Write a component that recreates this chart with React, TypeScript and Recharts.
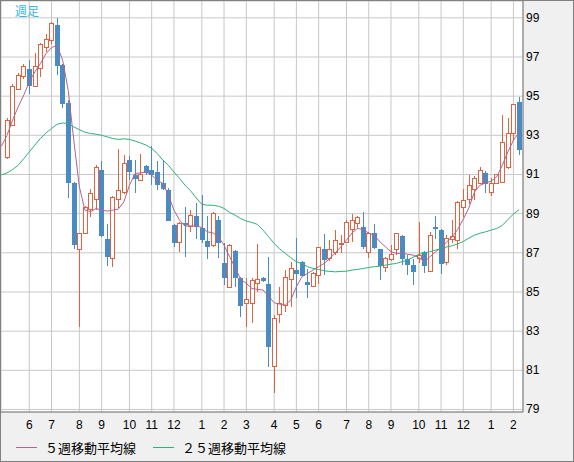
import { ComposedChart, Bar, Line, XAxis, YAxis, CartesianGrid } from 'recharts';

// week 0 is the partly hidden week at the left edge (moving averages only)
const opens = [
  null,
  91.87, 93.55, 95.39, 96.02, 96.37, 95.52, 96.46, 97.51, 97.85, 98.62,
  96.58, 94.65, 90.57, 87.22, 88.02, 89.23, 89.73, 91.22, 87.73, 86.71,
  89.73, 90.11, 91.73, 90.96, 90.74, 91.42, 91.25, 91.13, 90.57, 90.2,
  88.41, 87.56, 88.5, 88.36, 88.87, 88.28, 87.6, 87.39, 88.7, 86.49,
  85.27, 87.09, 85.69, 84.42, 84.42, 85.47, 85.69, 85.4, 81.22, 83.87,
  84.33, 85.64, 86.12, 86.51, 85.49, 85.3, 85.86, 87.22, 86.71, 87.05,
  87.45, 87.53, 88.24, 88.5, 88.33, 87.05, 87.99, 87.17, 86.29, 86.66,
  87.22, 87.85, 86.66, 86.37, 86.71, 87.02, 86.08, 88.33, 88.16, 86.51,
  87.73, 87.66, 89.35, 89.77, 90.25, 90.59, 91.1, 90.11, 90.54, 90.62,
  91.39, 93.14, 94.7,
];
const highs = [
  null,
  93.9, 95.6, 96.16, 96.65, 96.83, 97.2, 97.7, 98.16, 98.8, 99.0,
  96.65, 94.79, 90.6, 88.0, 89.4, 90.28, 91.5, 91.69, 88.46, 89.9,
  92.28, 91.98, 91.93, 91.73, 92.04, 91.5, 92.45, 91.7, 91.73, 90.3,
  88.45, 88.55, 89.35, 89.2, 89.52, 89.95, 88.9, 89.1, 88.9, 87.48,
  87.45, 87.15, 85.75, 85.69, 85.69, 87.44, 85.75, 86.8, 83.8, 85.27,
  86.12, 86.54, 87.76, 86.6, 86.15, 86.0, 87.3, 87.95, 87.65, 88.16,
  87.9, 88.7, 88.97, 88.9, 89.09, 88.05, 88.45, 87.2, 86.8, 87.39,
  88.0, 87.9, 86.9, 86.7, 88.58, 87.1, 88.07, 88.87, 88.2, 87.9,
  88.67, 89.65, 90.28, 90.96, 90.9, 91.39, 91.2, 90.83, 91.05, 94.03,
  93.86, 94.62, 94.96,
];
const lows = [
  null,
  91.8, 93.5, 95.3, 95.9, 95.12, 95.45, 96.0, 97.26, 97.68, 96.07,
  94.4, 89.78, 87.2, 83.22, 87.95, 88.84, 89.18, 87.8, 86.32, 86.29,
  89.27, 90.0, 90.7, 90.03, 90.7, 90.97, 90.45, 90.23, 90.2, 88.6,
  87.28, 87.05, 86.77, 88.07, 87.68, 87.5, 86.7, 87.3, 86.71, 85.35,
  85.25, 85.27, 83.7, 83.22, 83.4, 85.0, 85.5, 81.18, 79.83, 83.4,
  84.0, 84.24, 84.67, 85.8, 84.67, 85.25, 85.4, 85.86, 86.6, 86.9,
  87.0, 87.5, 87.56, 88.2, 87.2, 86.71, 87.2, 85.61, 86.03, 86.6,
  86.88, 86.37, 85.86, 85.35, 86.46, 85.95, 86.05, 87.73, 85.91, 86.4,
  87.48, 87.22, 88.84, 89.5, 89.69, 90.5, 90.03, 89.89, 90.5, 90.6,
  91.3, 92.7, 91.98,
];
const closes = [
  null,
  93.77, 95.51, 96.07, 96.55, 95.52, 96.53, 97.66, 97.94, 98.75, 96.54,
  94.6, 90.57, 87.39, 87.99, 89.35, 90.03, 91.39, 87.87, 86.8, 89.83,
  90.2, 91.61, 91.13, 90.76, 91.05, 91.1, 90.96, 90.45, 90.25, 88.62,
  87.5, 88.5, 88.4, 88.95, 88.33, 87.65, 87.28, 89.04, 87.48, 85.69,
  87.39, 85.69, 84.28, 84.62, 85.6, 85.64, 85.57, 82.17, 83.65, 84.45,
  85.74, 86.24, 85.91, 85.83, 85.35, 85.98, 87.28, 86.63, 87.17, 87.65,
  87.5, 88.55, 88.7, 88.84, 87.28, 87.99, 87.26, 86.33, 86.74, 86.93,
  87.99, 86.66, 86.37, 86.03, 86.88, 86.33, 87.9, 88.24, 86.41, 87.78,
  87.85, 89.6, 89.69, 90.45, 90.83, 91.22, 90.5, 90.54, 91.0, 92.64,
  93.14, 94.6, 92.24,
];
const ma5 = [
  92.45,
  93.0, 93.77, 94.45, 95.05, 95.73, 96.24, 96.66, 97.17, 97.48, 97.6,
  96.83, 95.3, 92.75, 90.37, 89.18, 89.1, 89.26, 89.18, 89.13, 89.18,
  89.23, 89.6, 90.45, 91.05, 91.08, 91.13, 90.96, 90.71, 90.54, 89.94,
  89.18, 88.67, 88.36, 88.38, 88.36, 88.3, 88.07, 88.02, 87.82, 87.39,
  86.8, 86.25, 85.64, 85.44, 85.18, 85.13, 85.1, 84.79, 84.45, 84.38,
  84.33, 84.59, 85.27, 85.78, 85.95, 86.12, 86.29, 86.46, 86.71, 87.0,
  87.31, 87.65, 88.02, 88.24, 88.19, 88.0, 87.9, 87.56, 87.31, 87.05,
  86.97, 86.97, 86.93, 86.88, 86.76, 86.54, 86.8, 87.05, 87.26, 87.56,
  87.82, 88.2, 88.72, 89.3, 90.11, 90.45, 90.57, 90.66, 90.88, 91.47,
  92.15, 92.75, 93.15,
];
const ma25 = [
  90.98,
  91.08, 91.25, 91.47, 91.81, 92.15, 92.5, 92.84, 93.12, 93.35, 93.57,
  93.63, 93.6, 93.43, 93.29, 93.16, 93.09, 93.06, 93.0, 92.92, 92.84,
  92.79, 92.82, 92.79, 92.71, 92.61, 92.5, 92.33, 92.07, 91.73, 91.47,
  91.13, 90.8, 90.45, 90.16, 89.8, 89.48, 89.43, 89.43, 89.38, 89.27,
  89.06, 88.92, 88.75, 88.62, 88.55, 88.45, 88.16, 87.82, 87.48, 87.2,
  86.97, 86.75, 86.54, 86.46, 86.29, 86.2, 86.15, 86.08, 86.05, 86.03,
  86.05, 86.06, 86.12, 86.15, 86.2, 86.25, 86.29, 86.32, 86.37, 86.42,
  86.46, 86.55, 86.63, 86.78, 86.92, 87.0, 87.05, 87.14, 87.22, 87.3,
  87.36, 87.46, 87.58, 87.75, 87.9, 88.0, 88.07, 88.16, 88.24, 88.4,
  88.7, 88.98, 89.2,
];

const monthTicks = [5, 9, 14, 18, 23, 27, 31, 36, 40, 44, 49, 53, 57, 62, 66, 70, 75, 79, 83, 88, 92];
const monthLabels = ['6', '7', '8', '9', '10', '11', '12', '1', '2', '3', '4', '5', '6', '7', '8', '9', '10', '11', '12', '1', '2'];
const priceTicks = [79, 81, 83, 85, 87, 89, 91, 93, 95, 97, 99];
const legendLabels = ['５週移動平均線', '２５週移動平均線'];

const UP = '#e0623e';
const DOWN = '#4b8bc3';
const MA5_COLOR = '#b4628f';
const MA25_COLOR = '#2fb07a';
const AXIS_FONT = '"Liberation Sans", Arial, sans-serif';
const CJK_FONT = '"Noto Sans CJK JP", sans-serif';

const data = ma5.map((_, i) => ({
  week: i,
  open: opens[i],
  high: highs[i],
  low: lows[i],
  close: closes[i],
  ma5: ma5[i],
  ma25: ma25[i],
}));

function Candle(props: any) {
  const { x, y, width, height, payload } = props;
  if (payload.open == null) return null;
  const { open, high, low, close } = payload;
  const top = Math.min(y, y + height);
  const ppu = Math.abs(height) / (high - low);
  const py = (v: number) => Math.round(top + (high - v) * ppu);
  const c = Math.round(x + width / 2);
  const yo = py(open);
  const yc = py(close);
  const bTop = Math.min(yo, yc);
  const bBot = Math.max(yo, yc);
  if (close >= open) {
    return (
      <g>
        <line x1={c + 0.5} x2={c + 0.5} y1={py(high)} y2={bTop} stroke={UP} />
        <line x1={c + 0.5} x2={c + 0.5} y1={bBot} y2={py(low)} stroke={UP} />
        <rect x={c - 1.5} y={bTop + 0.5} width={4} height={Math.max(bBot - bTop, 1)} fill="#fff" stroke={UP} />
      </g>
    );
  }
  return (
    <g>
      <line x1={c + 0.5} x2={c + 0.5} y1={py(high)} y2={py(low)} stroke={DOWN} />
      <rect x={c - 2} y={bTop} width={5} height={Math.max(bBot - bTop, 1)} fill={DOWN} />
    </g>
  );
}

const MonthTick = ({ x, y, payload }: any) => (
  <text x={x} y={y + 17} textAnchor="middle" fontSize={12} fontFamily={AXIS_FONT} fill="#000">
    {monthLabels[monthTicks.indexOf(payload.value)]}
  </text>
);

const PriceTick = ({ x, y, payload }: any) => (
  <text x={x + 3} y={y + 4} textAnchor="start" fontSize={12} fontFamily={AXIS_FONT} fill="#000">
    {payload.value}
  </text>
);

export default function App() {
  const legendColors = [MA5_COLOR, MA25_COLOR];
  const legendLeft = [15, 152];
  return (
    <div
      style={{
        position: 'absolute',
        left: 0,
        top: 0,
        width: 574,
        height: 462,
        boxSizing: 'border-box',
        border: '1px solid #808080',
        background: '#f0f0f0',
        overflow: 'hidden',
      }}
    >
      <ComposedChart width={572} height={460} data={data} margin={{ top: 0, right: 0, bottom: 0, left: 0 }}>
        <CartesianGrid stroke="#c8c8c8" fill="#fff" />
        <XAxis
          dataKey="week"
          type="number"
          domain={[-0.08, 93.72]}
          allowDataOverflow
          ticks={monthTicks}
          interval={0}
          height={49}
          tickLine={false}
          tickSize={0}
          tickMargin={0}
          axisLine={{ stroke: '#7a7a7a' }}
          tick={<MonthTick />}
        />
        <YAxis
          orientation="right"
          type="number"
          domain={[78.87, 99.86]}
          allowDataOverflow
          ticks={priceTicks}
          interval={0}
          width={50}
          tickLine={false}
          tickSize={0}
          tickMargin={0}
          axisLine={{ stroke: '#7a7a7a' }}
          tick={<PriceTick />}
        />
        <Bar
          dataKey={(d: any) => (d.open == null ? null : [d.low, d.high])}
          barSize={5}
          shape={<Candle />}
          isAnimationActive={false}
        />
        <Line dataKey="ma5" type="linear" stroke={MA5_COLOR} strokeWidth={1} dot={false} activeDot={false} isAnimationActive={false} />
        <Line dataKey="ma25" type="linear" stroke={MA25_COLOR} strokeWidth={1} dot={false} activeDot={false} isAnimationActive={false} />
      </ComposedChart>
      <div
        style={{
          position: 'absolute',
          left: 14,
          top: 3,
          fontSize: 12,
          lineHeight: '14px',
          fontFamily: CJK_FONT,
          color: '#3ab4e6',
        }}
      >
        週足
      </div>
      {legendLabels.map((label, i) => (
        <div key={label}>
          <div
            style={{
              position: 'absolute',
              left: legendLeft[i],
              top: 446,
              width: 21,
              height: 1,
              background: legendColors[i],
            }}
          />
          <div
            style={{
              position: 'absolute',
              left: legendLeft[i] + 29,
              top: 439,
              fontSize: 13,
              lineHeight: '16px',
              fontFamily: CJK_FONT,
              color: '#000',
              whiteSpace: 'nowrap',
            }}
          >
            {label}
          </div>
        </div>
      ))}
    </div>
  );
}
